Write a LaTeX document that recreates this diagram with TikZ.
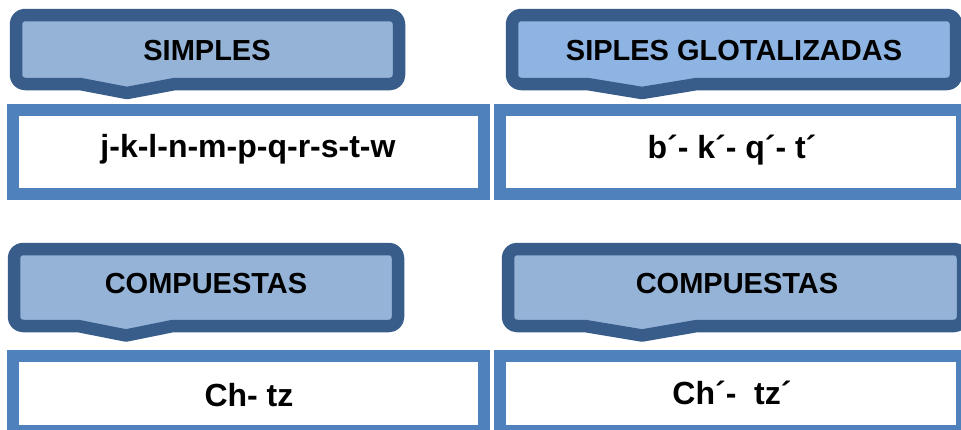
\documentclass[tikz,border=0pt]{standalone}
\usepackage{fontspec}
\setmainfont{Liberation Sans}
\definecolor{calloutborder}{HTML}{385D8A}
\definecolor{fillA}{HTML}{95B3D7}
\definecolor{fillB}{HTML}{8DB4E2}
\definecolor{boxblue}{HTML}{4F81BD}
\begin{document}
\begin{tikzpicture}[x=1pt,y=-1pt,
  callout/.style={draw=calloutborder, line width=12.5pt, rounded corners=9pt, line join=round},
  valbox/.style={draw=boxblue, line width=12pt, fill=white, inner sep=0pt, minimum width=#1},
  hdr/.style={font=\fontsize{29}{34}\selectfont\bfseries, inner sep=0pt},
  val/.style={font=\fontsize{32}{38}\selectfont\bfseries, inner sep=0pt}]
\clip (0,0) rectangle (961,429);
\fill[white] (0,0) rectangle (961,429);
% callouts
\draw[callout, fill=fillA] (200,15) -- (399,15) -- (399,84) [sharp corners] -- (175,84) -- (127,93) -- (80,84) [rounded corners=9pt] -- (16,84) -- (16,15) -- cycle;
\draw[callout, fill=fillB] (730,15) -- (956,15) -- (956,84) [sharp corners] -- (697,84) -- (642,93) -- (587,84) [rounded corners=9pt] -- (512,84) -- (512,15) -- cycle;
\draw[callout, fill=fillA] (200,249) -- (398,249) -- (398,326) [sharp corners] -- (173,326) -- (126,335.5) -- (78,326) [rounded corners=9pt] -- (14,326) -- (14,249) -- cycle;
\draw[callout, fill=fillA] (730,249) -- (963,249) -- (963,326) [sharp corners] -- (697,326) -- (642,335.5) -- (585,326) [rounded corners=9pt] -- (508,326) -- (508,249) -- cycle;
% value boxes
\node[valbox=471pt, minimum height=84pt] (b1) at (248.5,152) {};
\node[valbox=462pt, minimum height=84pt] (b2) at (731,152) {};
\node[valbox=471pt, minimum height=75pt] (b3) at (248.5,393.5) {};
\node[valbox=462pt, minimum height=75pt] (b4) at (731,393.5) {};
% headers
\node[hdr] (h1) at (207,51) {SIMPLES};
\node[hdr] (h2) at (734,51) {SIPLES GLOTALIZADAS};
\node[hdr] (h3) at (206,284) {COMPUESTAS};
\node[hdr] (h4) at (737,284) {COMPUESTAS};
% values
\node[val] (v1) at (248,149) {j-k-l-n-m-p-q-r-s-t-w};
\node[val] (v2) at (732,150) {b´- k´- q´- t´};
\node[val] (v3) at (249,395) {Ch- tz};
\node[val] (v4) at (732,393) {Ch´-\ \ tz´};
\end{tikzpicture}
\end{document}
